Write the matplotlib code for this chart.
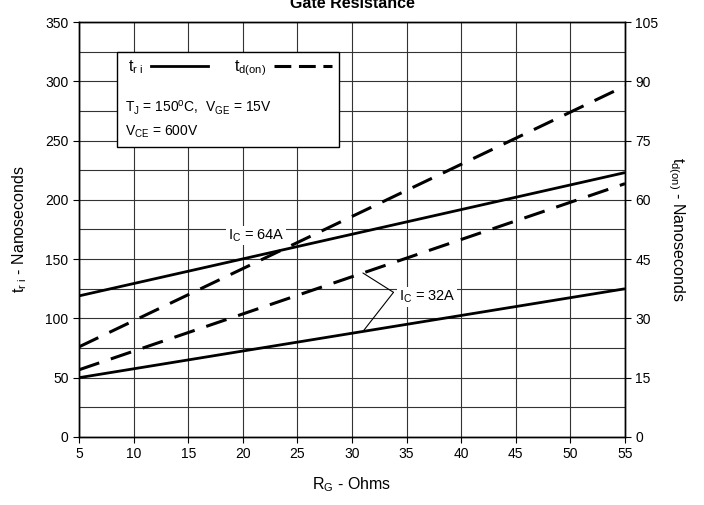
import matplotlib
matplotlib.use('Agg')
import matplotlib.pyplot as plt
from matplotlib.lines import Line2D
from matplotlib.patches import Rectangle
import numpy as np

plt.rcParams['font.family'] = ['Liberation Sans', 'DejaVu Sans']
plt.rcParams['mathtext.fontset'] = 'custom'
plt.rcParams['mathtext.rm'] = 'Liberation Sans'
plt.rcParams['mathtext.it'] = 'Liberation Sans'

# data (end points, lines are straight)
rg = [5, 55]
tri_64 = [119, 223]
tri_32 = [50, 125]
tdon_64 = [22.8, 88.8]
tdon_32 = [17.0, 64.1]

x_ticks = list(range(5, 60, 5))
left_ticks = list(range(0, 400, 50))
right_ticks = list(range(0, 120, 15))

fig = plt.figure(figsize=(7.04, 5.05), dpi=100)
ax = fig.add_axes([0.1122, 0.1347, 0.7756, 0.8217])
ax2 = ax.twinx()

ax.set_xlim(5, 55)
ax.set_ylim(0, 350)
ax2.set_ylim(0, 105)
ax.set_xticks(x_ticks)
ax.set_yticks(left_ticks)
ax.set_yticks(range(0, 375, 25), minor=True)
ax2.set_yticks(right_ticks)
ax.tick_params(which='minor', length=0)
ax.tick_params(labelsize=10, length=4, width=0.8, direction='out')
ax2.tick_params(labelsize=10, length=4, width=0.8, direction='out')
ax.grid(True, which='both', color='#333333', linewidth=0.8)
ax.set_axisbelow(True)
for a in (ax, ax2):
    for s in a.spines.values():
        s.set_linewidth(1.0)

# t_ri solid lines
ax.plot(rg, tri_64, color='black', lw=2.0, solid_capstyle='butt', zorder=3)
ax.plot(rg, tri_32, color='black', lw=2.0, solid_capstyle='butt', zorder=3)
# t_d(on) dashed lines on right axis
ax2.plot(rg, tdon_64, color='black', lw=2.2, dashes=(7, 4))
ax2.plot(rg, tdon_32, color='black', lw=2.2, dashes=(7, 4))

ax.set_xlabel(r'R$_\mathregular{G}$ - Ohms', fontsize=11.5, labelpad=10)
ax.set_ylabel(r't$_\mathregular{r\ i}$ - Nanoseconds', fontsize=11.5, labelpad=12)
ax2.set_ylabel(r't$_\mathregular{d(on)}$ - Nanoseconds', fontsize=11.5,
               rotation=-90, labelpad=20)

fig.text(0.5, 0.984, 'Gate Resistance', ha='center', va='baseline',
         fontsize=11.5, fontweight='bold')

# legend box
box = Rectangle((8.5, 245), 20.3, 80, facecolor='white', edgecolor='black',
                lw=1.0, zorder=4)
ax.add_patch(box)
handles = [Line2D([], [], color='black', lw=2.0),
           Line2D([], [], color='black', lw=2.2, dashes=(5.5, 2.5))]
leg = ax.legend(handles, [r't$_\mathregular{r\ i}$', r't$_\mathregular{d(on)}$'],
                ncol=2, markerfirst=False, frameon=False, fontsize=11.5,
                handlelength=3.6, columnspacing=1.6, handletextpad=0.5,
                loc='upper left', bbox_to_anchor=(0.063, 0.947))
leg.set_zorder(5)
ax.text(9.2, 278, r'T$_\mathregular{J}$ = 150$^\mathregular{o}$C,  V$_\mathregular{GE}$ = 15V',
        fontsize=10, va='center', zorder=5)
ax.text(9.2, 257, r'V$_\mathregular{CE}$ = 600V', fontsize=10, va='center', zorder=5)

# curve labels
ax.text(21.2, 170, r'I$_\mathregular{C}$ = 64A', fontsize=10.5, ha='center', va='center',
        bbox=dict(facecolor='white', edgecolor='none', pad=1), zorder=4)
vx, vy = 33.8, 122
x_lead = 31
y_d = np.interp(x_lead, rg, tdon_32) * 350 / 105
y_s = np.interp(x_lead, rg, tri_32)
ax.annotate('', xy=(x_lead, y_d), xytext=(vx, vy),
            arrowprops=dict(arrowstyle='-', lw=0.8, color='black', shrinkA=0, shrinkB=0))
ax.annotate('', xy=(x_lead, y_s), xytext=(vx, vy),
            arrowprops=dict(arrowstyle='-', lw=0.8, color='black', shrinkA=0, shrinkB=0))
ax.text(34.3, 118, r'I$_\mathregular{C}$ = 32A', fontsize=10.5, ha='left', va='center',
        bbox=dict(facecolor='white', edgecolor='none', pad=1), zorder=4)

fig.savefig('out.png', dpi=100)
